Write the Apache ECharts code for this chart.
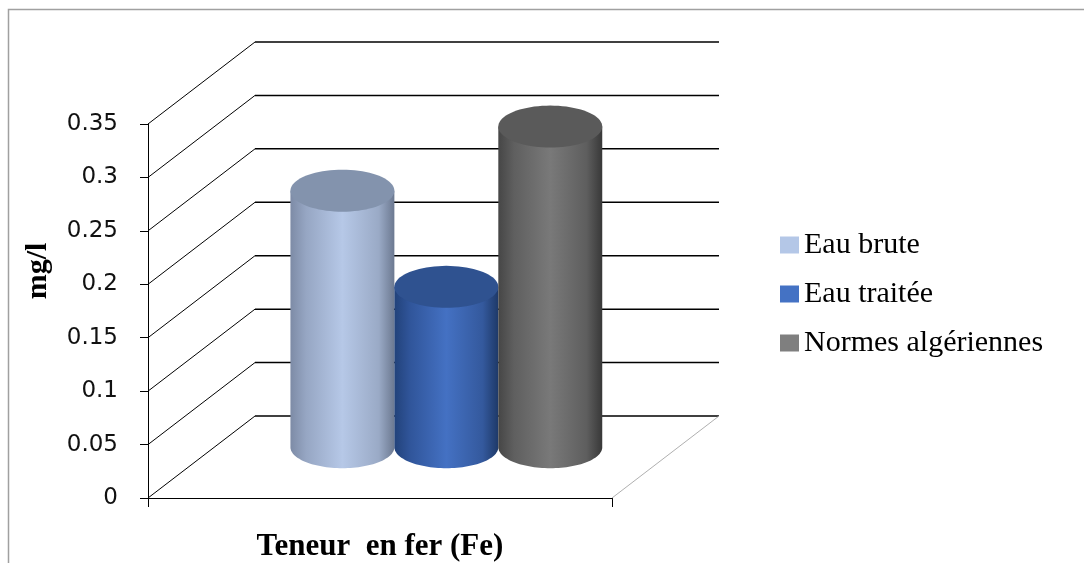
<!DOCTYPE html>
<html>
<head>
<meta charset="utf-8">
<script src="https://cdn.jsdelivr.net/npm/echarts@6/dist/echarts.min.js"></script>
<style>
html,body{margin:0;padding:0;background:#fff;}
#chart{width:1084px;height:563px;}
</style>
</head>
<body>
<div id="chart"></div>
<script>
// ---- data ----
const categories = ['Teneur  en fer (Fe)'];
const seriesNames = ['Eau brute', 'Eau traitée', 'Normes algériennes'];
const eauBrute = [0.24];
const eauTraitee = [0.15];
const normesAlgeriennes = [0.30];
const yTicks = [0, 0.05, 0.1, 0.15, 0.2, 0.25, 0.3, 0.35];
const yMin = 0, yMax = 0.35, yStep = 0.05;
const yAxisTitle = 'mg/l';

// ---- style constants ----
const DX = 107, DY = -82;        // depth offset of back wall
const DEPTH = 0.62;              // cylinder depth position (fraction)
const BAR_FRAC = 0.224;          // cylinder width as fraction of band
const RY = 21;                   // ellipse half-height

const styles = [
  {legend: '#b4c7e7', top: '#8393ad',
   side: ['#7d8ba6', '#96a6c3', '#b6c8e7', '#9aaac6', '#6c7991']},
  {legend: '#4472c4', top: '#2f5290',
   side: ['#22427a', '#30559a', '#4471c3', '#34599d', '#1e3968']},
  {legend: '#7f7f7f', top: '#5a5a5a',
   side: ['#464646', '#5f5f5f', '#797979', '#5e5e5e', '#383838']}
];

function ellipsePts(cx, cy, rx, ry, a0, a1, n) {
  const pts = [];
  for (let i = 0; i <= n; i++) {
    const a = a0 + (a1 - a0) * i / n;
    pts.push([cx + rx * Math.cos(a), cy + ry * Math.sin(a)]);
  }
  return pts;
}

function cylinderRenderer(k, st) {
  return function (params, api) {
    const cat = api.value(0), v = api.value(1);
    const top = api.coord([cat, v]);
    const base = api.coord([cat, 0]);
    const band = api.size([1, 0])[0];
    const w = band * BAR_FRAC;
    const rx = w / 2;
    const cx = top[0] + DX * DEPTH + k * w;
    const ty = top[1] + DY * DEPTH;
    const by = base[1] + DY * DEPTH;
    const body = [[cx - rx, ty], [cx - rx, by]]
      .concat(ellipsePts(cx, by, rx, RY, Math.PI, 0, 60))
      .concat([[cx + rx, ty]]);
    const grad = {
      type: 'linear', x: 0, y: 0, x2: 1, y2: 0,
      colorStops: [
        {offset: 0, color: st.side[0]},
        {offset: 0.15, color: st.side[1]},
        {offset: 0.5, color: st.side[2]},
        {offset: 0.85, color: st.side[3]},
        {offset: 1, color: st.side[4]}
      ]
    };
    return {
      type: 'group',
      children: [
        {type: 'polygon', shape: {points: body}, style: {fill: grad, stroke: null}},
        {type: 'polygon', shape: {points: ellipsePts(cx, ty, rx, RY, 0, Math.PI * 2, 80)},
         style: {fill: st.top, stroke: null}}
      ]
    };
  };
}

function wallRenderer(params, api) {
  const v = api.value(1);
  const p = api.coord([0, v]);
  const left = params.coordSys.x;
  const right = left + params.coordSys.width;
  const y = p[1];
  const children = [
    {type: 'line', shape: {x1: left, y1: y, x2: left + DX, y2: y + DY},
     style: {stroke: '#000', lineWidth: 1}},
    {type: 'line', shape: {x1: left + DX, y1: y + DY, x2: right + DX, y2: y + DY},
     style: {stroke: '#000', lineWidth: 1.5}}
  ];
  if (v === yMin) {
    children.push({type: 'line', shape: {x1: right, y1: y, x2: right + DX, y2: y + DY},
      style: {stroke: '#b0b0b0', lineWidth: 1}});
  }
  return {type: 'group', children: children};
}

const valueArrays = [eauBrute, eauTraitee, normesAlgeriennes];

const series = [{
  name: 'walls',
  type: 'custom',
  z: 1,
  silent: true,
  renderItem: wallRenderer,
  data: yTicks.map(t => [0, t])
}];
valueArrays.forEach((arr, i) => {
  series.push({
    name: seriesNames[i],
    type: 'custom',
    z: 2,
    itemStyle: {color: styles[i].legend},
    renderItem: cylinderRenderer(i - 1, styles[i]),
    data: categories.map((c, j) => [j, arr[j]])
  });
});

const chart = echarts.init(document.getElementById('chart'), null, {renderer: 'canvas'});
chart.setOption({
  animation: false,
  backgroundColor: '#fff',
  grid: {left: 148, right: 472, top: 124, bottom: 65, containLabel: false},
  xAxis: {
    type: 'category',
    data: categories,
    boundaryGap: true,
    axisLine: {show: true, lineStyle: {color: '#000', width: 1}},
    axisTick: {show: true, length: 9, lineStyle: {color: '#000'}},
    axisLabel: {
      margin: 33, color: '#000',
      fontFamily: 'Liberation Serif', fontWeight: 'bold', fontSize: 31
    },
    splitLine: {show: false}
  },
  yAxis: {
    type: 'value',
    min: yMin, max: yMax, interval: yStep,
    axisLine: {show: true, lineStyle: {color: '#000', width: 1}},
    axisTick: {show: true, length: 8, lineStyle: {color: '#000'}},
    axisLabel: {margin: 30, color: '#111', fontFamily: 'DejaVu Sans', fontSize: 23},
    splitLine: {show: false}
  },
  legend: {
    data: seriesNames,
    orient: 'vertical',
    left: 775,
    top: 225,
    icon: 'rect',
    itemWidth: 19,
    itemHeight: 17,
    itemGap: 19,
    textStyle: {fontFamily: 'Liberation Serif', fontSize: 30, color: '#000', lineHeight: 30}
  },
  graphic: [
    {type: 'rect', shape: {x: 8.5, y: 9.5, width: 1200, height: 700},
     style: {fill: null, stroke: '#a0a0a0', lineWidth: 1.5}, z: 0, silent: true},
    {type: 'text', x: 38, y: 271, rotation: Math.PI / 2,
     style: {text: yAxisTitle, fontFamily: 'Liberation Serif', fontWeight: 'bold',
             fontSize: 30, fill: '#000', align: 'center', verticalAlign: 'middle'}}
  ],
  series: series
});
</script>
</body>
</html>
